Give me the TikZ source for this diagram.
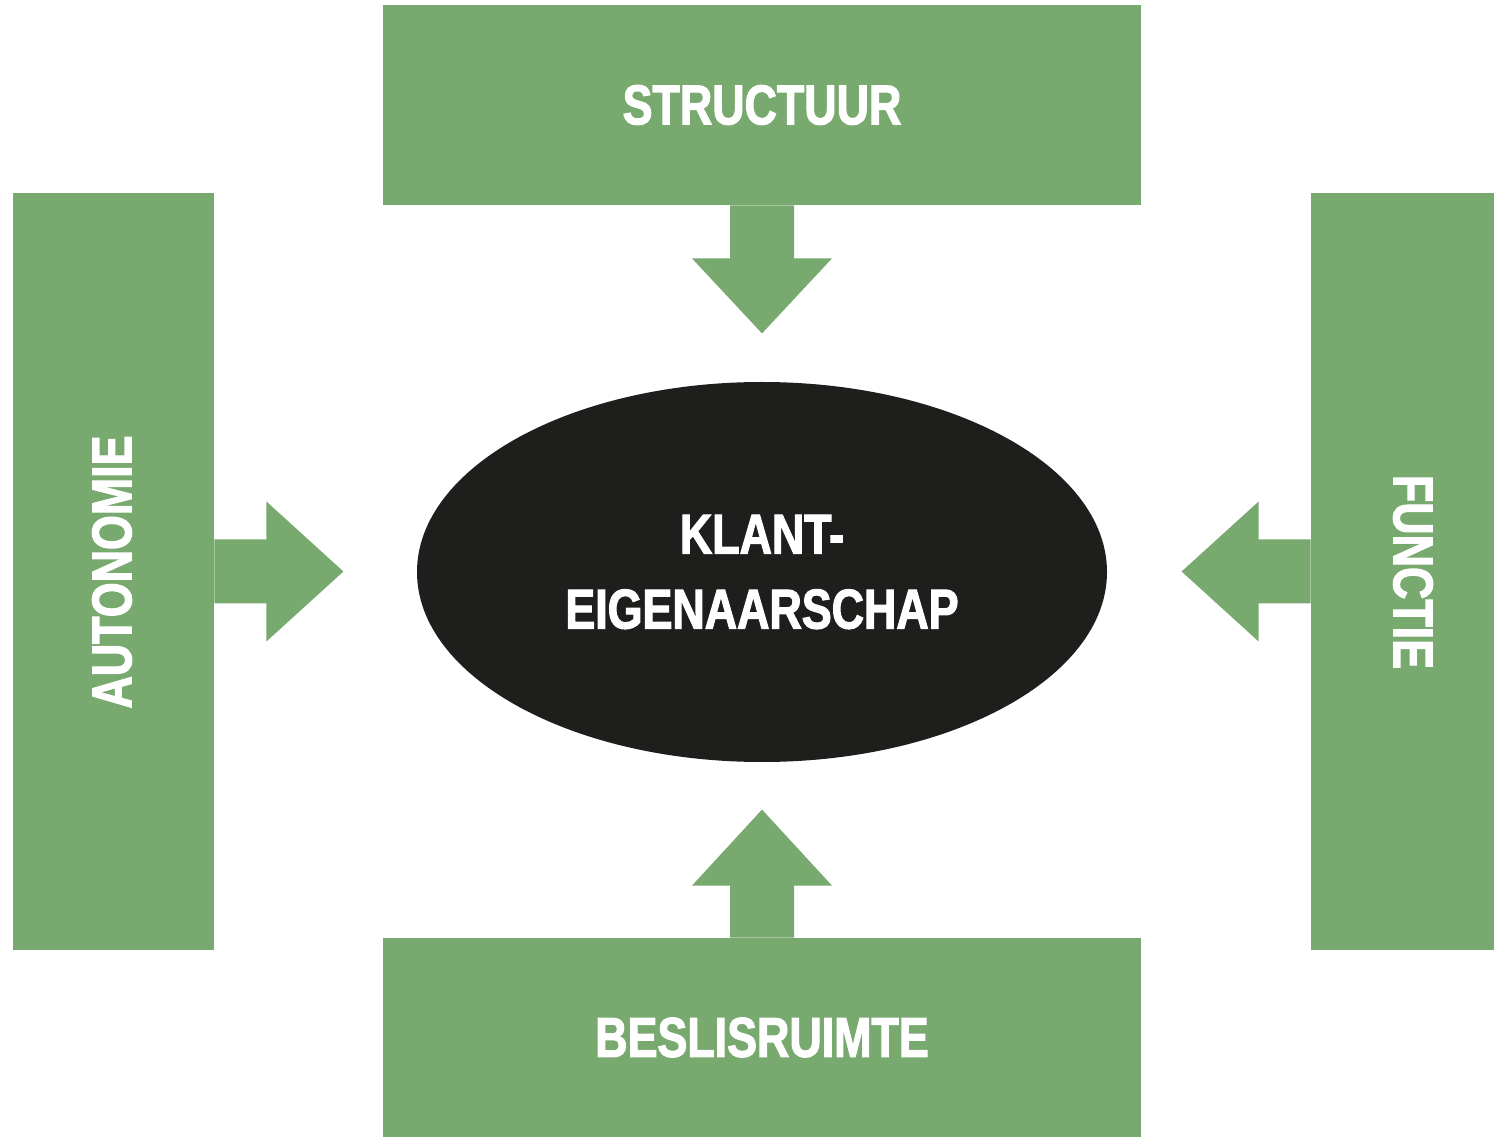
\documentclass[tikz,border=0pt]{standalone}
\usepackage{fontspec}
\usetikzlibrary{shapes.geometric}
\newfontfamily\bannerfont[FakeStretch=0.8,FakeBold=2]{Liberation Sans Bold}
\definecolor{leaf}{HTML}{78A96E}
\definecolor{ink}{HTML}{1E1E1C}
\begin{document}
\begin{tikzpicture}[x=0.5pt,y=-0.5pt,
  label text/.style={text=white,font=\bannerfont\fontsize{28}{37.5}\selectfont},
  panel/.style={fill=leaf,inner sep=0pt,label text},
  hub/.style={ellipse,fill=ink,inner sep=0pt,minimum width=345pt,minimum height=190pt,
              align=center,label text},
  block arrow/.style={fill=leaf}]
\useasboundingbox (0,0) rectangle (1494,1138);

% four factor panels
\node[panel,minimum width=379pt,minimum height=100pt] (structuur) at (762,105) {STRUCTUUR};
\node[panel,minimum width=379pt,minimum height=99.5pt] (beslis) at (762,1037.5) {BESLISRUIMTE};
\node[panel,minimum width=100.5pt,minimum height=378.5pt] (autonomie) at (113.5,571.5) {};
\node[panel,minimum width=91.5pt,minimum height=378.5pt] (functie) at (1402.5,571.5) {};
\node[label text,rotate=90] (autonomie-text) at (112,572) {AUTONOMIE};
\node[label text,rotate=-90] (functie-text) at (1413,572) {FUNCTIE};

% central ellipse
\node[hub] (klant) at (762,572) {KLANT-\\EIGENAARSCHAP};

% block arrows pointing at the centre
\fill[block arrow] ([xshift=-16pt]structuur.south) -- ++(0,53) -- ++(-38,0) -- ++(70,75)
  -- ++(70,-75) -- ++(-38,0) -- ++(0,-53) -- cycle;
\fill[block arrow] ([xshift=-16pt]beslis.north) -- ++(0,-52) -- ++(-38,0) -- ++(70,-76)
  -- ++(70,76) -- ++(-38,0) -- ++(0,52) -- cycle;
\fill[block arrow] ([yshift=16pt]autonomie.east) -- ++(52,0) -- ++(0,-38) -- ++(77,70)
  -- ++(-77,70) -- ++(0,-38) -- ++(-52,0) -- cycle;
\fill[block arrow] ([yshift=16pt]functie.west) -- ++(-52,0) -- ++(0,-38) -- ++(-77,70)
  -- ++(77,70) -- ++(0,-38) -- ++(52,0) -- cycle;
\end{tikzpicture}
\end{document}
